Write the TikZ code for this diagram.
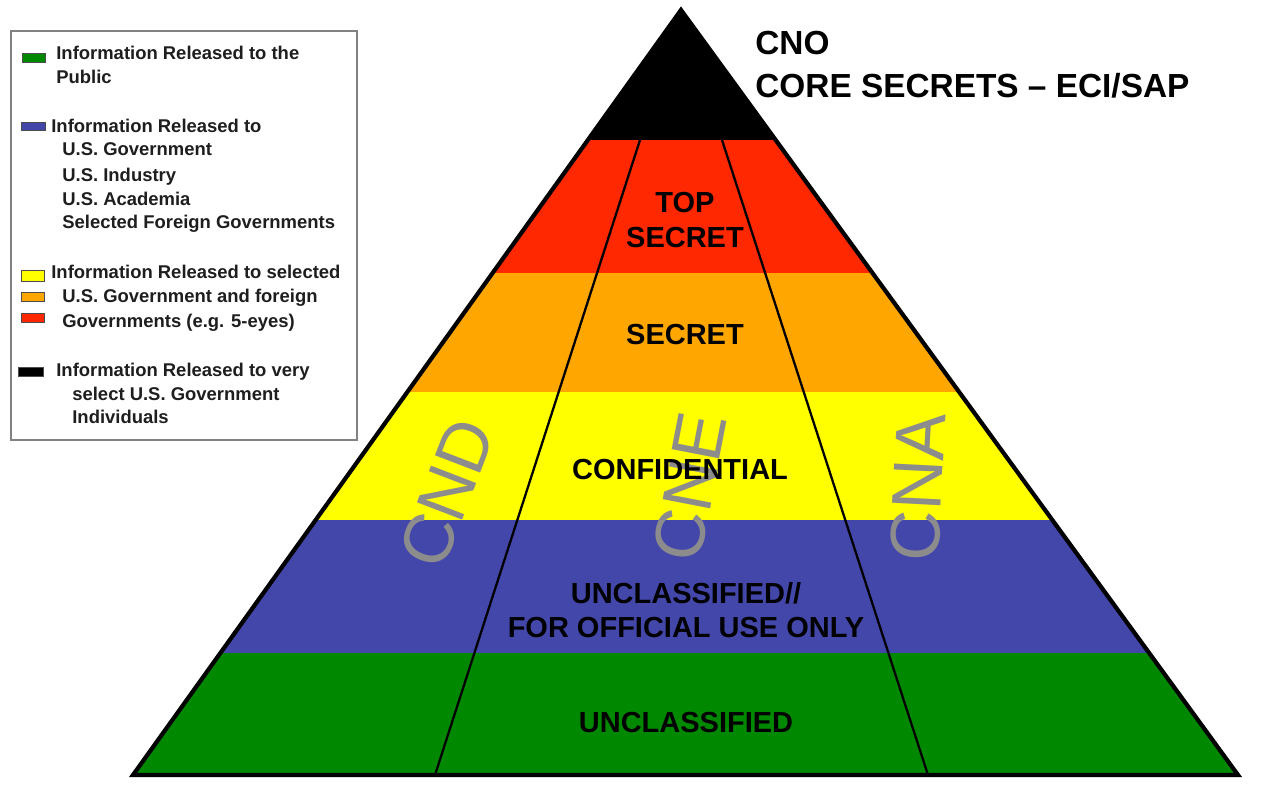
\documentclass[tikz,border=0pt]{standalone}
\usepackage{fontspec}
\setmainfont{Liberation Sans}
\usetikzlibrary{calc}
\definecolor{bandblack}{RGB}{0,0,0}
\definecolor{bandred}{RGB}{255,40,0}
\definecolor{bandorange}{RGB}{255,166,0}
\definecolor{bandyellow}{RGB}{255,255,0}
\definecolor{bandblue}{RGB}{68,71,170}
\definecolor{bandgreen}{RGB}{0,137,0}
\definecolor{cngray}{RGB}{140,140,140}
\definecolor{legendframe}{RGB}{130,130,130}
\definecolor{legendtext}{RGB}{30,30,30}

\tikzset{
  tierlabel/.style={font=\fontsize{16.5}{19.4}\selectfont\bfseries, align=center, inner sep=0pt},
  cnletters/.style={font=\fontsize{40}{40}\selectfont, text=cngray, inner sep=0pt},
  legendline/.style={font=\fontsize{10.5}{12}\selectfont\bfseries, text=legendtext, anchor=west, inner sep=0pt, text height=0.72em, text depth=0pt},
  titleline/.style={font=\fontsize{19}{22}\selectfont\bfseries, anchor=west, inner sep=0pt, text height=0.72em, text depth=0pt},
  swatch/.style={draw=black!70, line width=0.4pt}
}

\begin{document}
\begin{tikzpicture}[x=0.02cm, y=-0.02cm]
\useasboundingbox (0,0) rectangle (1279,792);

% 1. PYRAMID CORNERS & COLUMN DIVIDERS
\coordinate (apex) at (681,10);
\coordinate (baseL) at (133,775);
\coordinate (baseR) at (1238,775);
\coordinate (cndTop) at (640,140);
\coordinate (cndBot) at (435,775);
\coordinate (cnaTop) at (722,140);
\coordinate (cnaBot) at (928,775);

% Colour bands, clipped to the triangle
\begin{scope}
\clip (apex) -- (baseL) -- (baseR) -- cycle;
\fill[bandblack] (100,0) rectangle (1279,140);
\fill[bandred] (100,140) rectangle (1279,273);
\fill[bandorange] (100,273) rectangle (1279,392);
\fill[bandyellow] (100,392) rectangle (1279,520);
\fill[bandblue] (100,520) rectangle (1279,653);
\fill[bandgreen] (100,653) rectangle (1279,780);
\end{scope}

% 2. CND / CNE / CNA
\node[cnletters, rotate=69] (cnd) at (447,493) {CND};
\node[cnletters, rotate=79] (cne) at (690,487) {CNE};
\node[cnletters, rotate=87] (cna) at (918,487) {CNA};

% Dividers and outline
\draw[line width=1.3pt] (cndTop) -- (cndBot);
\draw[line width=1.3pt] (cnaTop) -- (cnaBot);
\draw[line width=2.4pt] (apex) -- (baseL) -- (baseR) -- cycle;

% 3. CLASSIFICATION LEVELS
\node[tierlabel] (topsecret) at (685,220) {TOP\\SECRET};
\node[tierlabel] (secret) at (685,335) {SECRET};
\node[tierlabel] (confidential) at (680,470) {CONFIDENTIAL};
\node[tierlabel] (fouo) at (686,610) {UNCLASSIFIED//\\FOR OFFICIAL USE ONLY};
\node[tierlabel] (unclass) at (686,723) {UNCLASSIFIED};

% Title beside the apex
\node[titleline] (cno) at (755,48) {CNO};
\node[titleline] (core) at (755,91) {CORE SECRETS – ECI/SAP};

% 4. LEGEND
\draw[legendframe, fill=white, line width=1.2pt] (11,31) rectangle (357,440);

% Public
\fill[bandgreen, swatch] (22,53) rectangle (45,62);
\node[legendline] (pub1) at (56,53) {Information Released to the};
\node[legendline] (pub2) at (56,77) {Public};

% U.S. government and partners
\fill[bandblue, swatch] (21,122) rectangle (45,130);
\node[legendline] (gov1) at (51,126) {Information Released to};
\node[legendline] (gov2) at (62,149) {U.S. Government};
\node[legendline] (gov3) at (62,175) {U.S. Industry};
\node[legendline] (gov4) at (62,199) {U.S. Academia};
\node[legendline] (gov5) at (62,222) {Selected Foreign Governments};

% Selected governments
\fill[bandyellow, swatch] (21,270) rectangle (44,281);
\fill[bandorange, swatch] (21,292) rectangle (44,301);
\fill[bandred, swatch] (21,313) rectangle (44,322);
\node[legendline] (sel1) at (51,272) {Information Released to selected};
\node[legendline] (sel2) at (62,296) {U.S. Government and foreign};
\node[legendline] (sel3) at (62,321) {Governments (e.g. 5-eyes)};

% Very select individuals
\fill[bandblack, swatch] (18,367) rectangle (43,376);
\node[legendline] (vip1) at (56,370) {Information Released to very};
\node[legendline] (vip2) at (72,394) {select U.S. Government};
\node[legendline] (vip3) at (72,417) {Individuals};

\end{tikzpicture}
\end{document}
